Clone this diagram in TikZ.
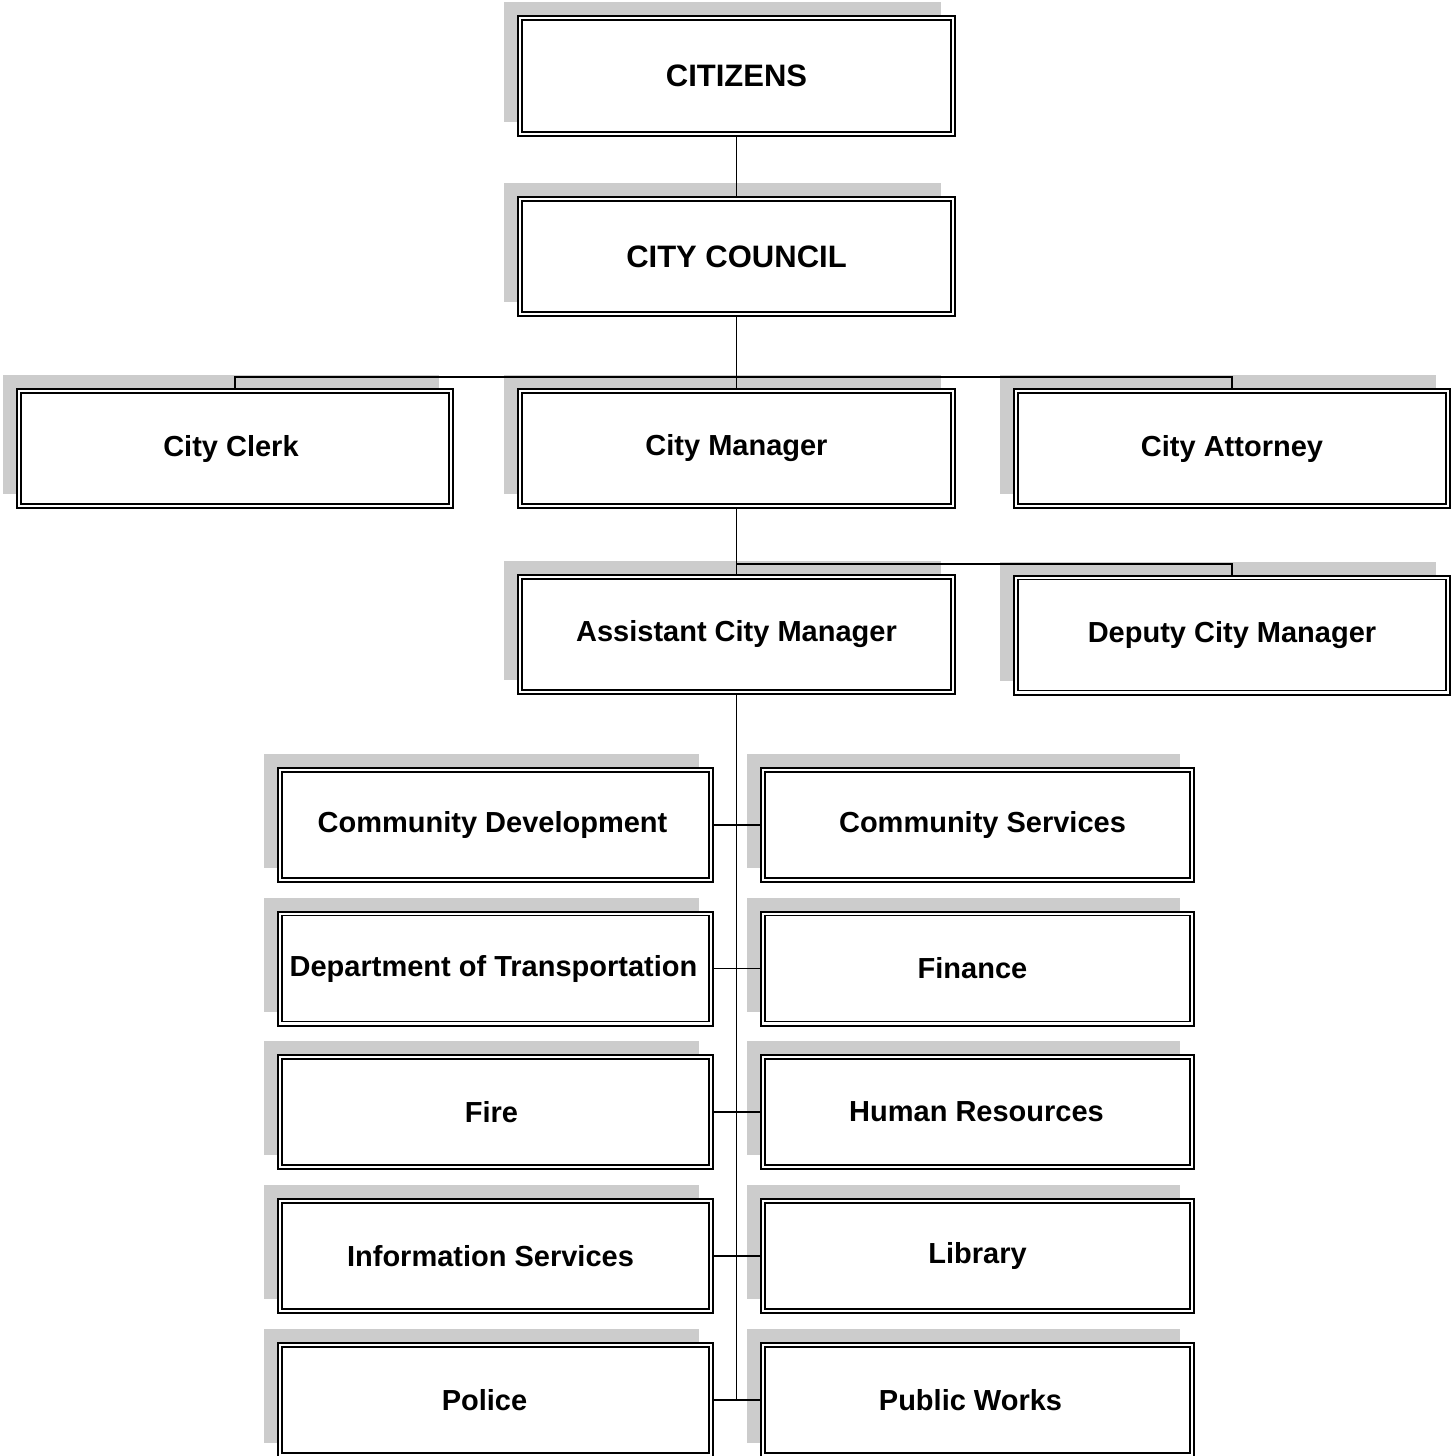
\documentclass[tikz,border=0pt]{standalone}
\usepackage{fontspec}
\setmainfont{Liberation Sans}
\usetikzlibrary{shadows}
\definecolor{shadowgray}{RGB}{204,204,204}
% shift a centred text horizontally by #1 (in pt)
\newcommand\txtshift[2]{\hspace*{\dimexpr 2\dimexpr #1pt\relax\relax}#2}
\begin{document}
\begin{tikzpicture}[x=1pt,y=-1pt,
  orgbox/.style={draw, line width=2pt, fill=white, inner sep=0pt,
    font=\bfseries\fontsize{29}{34}\selectfont,
    general shadow={fill=shadowgray, shadow xshift=-14pt, shadow yshift=14pt}},
  topbox/.style={orgbox, font=\bfseries\fontsize{31}{36}\selectfont},
  leftdept/.style={orgbox, minimum width=435pt, minimum height=114pt},
  rightdept/.style={orgbox, minimum width=433pt, minimum height=114pt},
  link/.style={line width=1.8pt},
  innerline/.style={line width=1.2pt}]
\fill[white, use as bounding box] (0,0) rectangle (1452,1456);

% top levels
\node[topbox, minimum width=437pt, minimum height=120pt] (cit) at (736.5,76) {CITIZENS};
\node[topbox, minimum width=437pt, minimum height=119pt] (cc) at (736.5,256.5) {CITY COUNCIL};

% second row
\node[orgbox, minimum width=436pt, minimum height=119pt] (clerk) at (235,448.5) {\txtshift{-4}{City Clerk}};
\node[orgbox, minimum width=437pt, minimum height=119pt] (mgr) at (736.5,448.5) {City Manager};
\node[orgbox, minimum width=436pt, minimum height=119pt] (att) at (1232,448.5) {City Attorney};

% third row
\node[orgbox, minimum width=437pt, minimum height=119pt] (acm) at (736.5,634.5) {Assistant City Manager};
\node[orgbox, minimum width=436pt, minimum height=119pt] (dep) at (1232,635) {Deputy City Manager};

% departments
\node[leftdept]  (cd)  at (495.5,825)   {\txtshift{-3}{Community Development}};
\node[rightdept] (cs)  at (977.5,825)   {\txtshift{5}{Community Services}};
\node[leftdept]  (dot) at (495.5,968.5) {\txtshift{-2}{Department of Transportation}};
\node[rightdept] (fin) at (977.5,968.5) {\txtshift{-5}{Finance}};
\node[leftdept]  (fire) at (495.5,1112) {\txtshift{-4}{Fire}};
\node[rightdept] (hr)  at (977.5,1112)  {\txtshift{-1}{Human Resources}};
\node[leftdept]  (is)  at (495.5,1256)  {\txtshift{-5}{Information Services}};
\node[rightdept] (lib) at (977.5,1256)  {Library};
\node[leftdept]  (pol) at (495.5,1400)  {\txtshift{-11}{Police}};
\node[rightdept] (pw)  at (977.5,1400)  {\txtshift{-7}{Public Works}};

% inner frames
\foreach \n in {cit,cc,clerk,mgr,att,acm,dep,cd,cs,dot,fin,fire,hr,is,lib,pol,pw}
  \draw[innerline] ([shift={(5,5)}]\n.north west) rectangle ([shift={(-5,-5)}]\n.south east);

% connectors
\coordinate (bus1) at (736.5,377);
\coordinate (bus2) at (736.5,564);
\draw[link] (cit.south) -- (cc.north);
\draw[link] (cc.south) -- (bus1);
\draw[link] (clerk.north) |- (bus1) -| (att.north);
\draw[link] (bus1) -- (mgr.north);
\draw[link] (mgr.south) -- (acm.north);
\draw[link] (bus2) -| (dep.north);
\draw[link] (acm.south) -- (acm.south |- pol.east);
\draw[link] (cd.east) -- (cs.west);
\draw[link] (dot.east) -- (fin.west);
\draw[link] (fire.east) -- (hr.west);
\draw[link] (is.east) -- (lib.west);
\draw[link] (pol.east) -- (pw.west);
\end{tikzpicture}
\end{document}
